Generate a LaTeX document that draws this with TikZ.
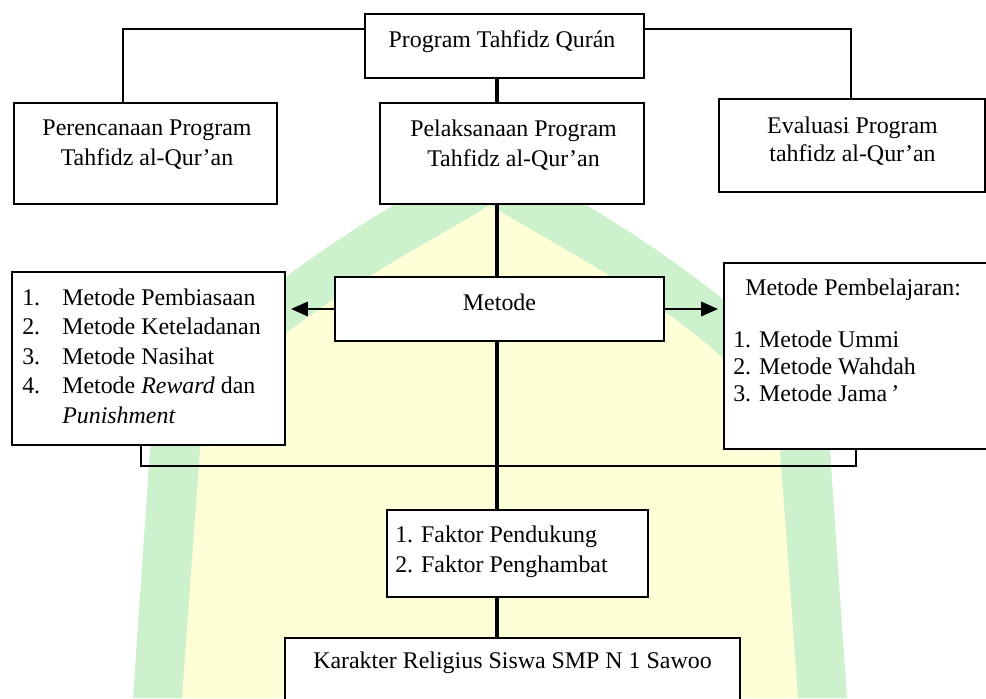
\documentclass[tikz,border=0pt]{standalone}
\usepackage{fontspec}
\setmainfont{Liberation Serif}
\usepackage{xcolor}
\usepackage{tikz}
\usetikzlibrary{arrows.meta}
\definecolor{wmGreen}{RGB}{205,241,205}
\definecolor{wmYellow}{RGB}{255,255,215}
\tikzset{box/.style={
    draw, line width=1.4pt, fill=white, inner sep=0pt
  },
  txt/.style={
    inner sep=0pt, align=center,
    font=\fontsize{17}{21.3}\selectfont
  },
  link/.style={
    line width=1.2pt
  },
  spine/.style={
    line width=2.4pt
  },
  arr/.style={
    line width=1.4pt,
    -{Triangle[length=4.2mm,width=3.6mm]},
    shorten >=0.125cm
  }
}

\begin{document}
\begin{tikzpicture}[x=0.025cm,y=-0.025cm]
      \useasboundingbox (0,0) rectangle (986,698);
      \fill[white] (0,0) rectangle (986,698);
      \fill[wmGreen] (133,698) -- (150,450) .. controls (160,330) and (400,200) .. (490,150)
      .. controls (580,200) and (820,330) .. (830,450) -- (847,698) -- cycle;
      \fill[wmYellow] (182,698) -- (200,450) .. controls (210,350) and (420,250) .. (490,205)
      .. controls (560,250) and (770,350) .. (780,450) -- (798,698) -- cycle;
      \node[box,minimum width=6.975cm,minimum height=1.6cm] (prog) at (504.5,46) {};
      \node[box,minimum width=6.575cm,minimum height=2.525cm] (plan) at (145.5,153.5) {};
      \node[box,minimum width=6.6cm,minimum height=2.525cm] (exec) at (512,153.5) {};
      \node[box,minimum width=6.65cm,minimum height=2.325cm] (eval) at (852,145.5) {};
      \node[box,minimum width=8.225cm,minimum height=1.6cm] (meth) at (499.5,309) {};
      \node[box,minimum width=6.825cm,minimum height=4.325cm] (habit) at (148.5,358.5) {};
      \node[box,minimum width=6.65cm,minimum height=4.65cm] (learn) at (857,356) {};
      \node[box,minimum width=6.525cm,minimum height=2.175cm] (fact) at (517.5,553.5) {};
      \node[box,minimum width=11.375cm,minimum height=2.25cm] (kar) at (512.5,683) {};
      \node[txt] (progtxt) at (502,42) {Program Tahfidz Qurán};
      \node[txt] (plantxt) at (147,145) {Perencanaan Program\\Tahfidz al-Qur'an};
      \node[txt] (exectxt) at (513.5,145) {Pelaksanaan Program\\Tahfidz al-Qur'an};
      \node[txt,font=\fontsize{17}{20}\selectfont] (evaltxt) at (852.5,141) {Evaluasi Program\\tahfidz al-Qur'an};
      \node[txt] (methtxt) at (499.5,302) {Metode};
      \node[txt,align=left,anchor=west,font=\fontsize{17}{21}\selectfont] (habittxt) at (22,356)
      {\makebox[1cm][l]{1.}Metode Pembiasaan\\\makebox[1cm][l]{2.}Metode Keteladanan\\
        \makebox[1cm][l]{3.}Metode Nasihat\\\makebox[1cm][l]{4.}Metode \textit{Reward} dan\\
        \hspace*{1cm}\textit{Punishment}};
      \node[txt,align=left,anchor=west,font=\fontsize{17}{19.2}\selectfont] (learntxt) at (733,340)
      {\hspace*{0.3cm}Metode Pembelajaran:\\[17.8pt]1. Metode Ummi\\2. Metode Wahdah\\3. Metode Jama\,'};
      \node[txt,align=left,anchor=west] (facttxt) at (395,552) {1. Faktor Pendukung\\2. Faktor Penghambat};
      \node[txt] (kartxt) at (512.5,663) {Karakter Religius Siswa SMP N 1 Sawoo};
      \coordinate (spine) at (497,0);
      \coordinate (lhook) at (123,29);
      \coordinate (rhook) at (851,29);
      \coordinate (lfoot) at (141,466);
      \coordinate (rfoot) at (856,466);
      \draw[link] (prog.west |- lhook) -- (lhook) -- (plan.north -| lhook);
      \draw[link] (prog.east |- rhook) -- (rhook) -- (eval.north -| rhook);
      \draw[spine] (prog.south -| spine) -- (exec.north -| spine);
      \draw[spine] (exec.south -| spine) -- (meth.north -| spine);
      \draw[spine] (meth.south -| spine) -- (fact.north -| spine);
      \draw[spine] (fact.south -| spine) -- (kar.north -| spine);
      \draw[link] (habit.south -| lfoot) -- (lfoot) -- (rfoot) -- (learn.south -| rfoot);
      \draw[arr] (meth.west) -- (meth.west -| habit.east);
      \draw[arr] (meth.east) -- (meth.east -| learn.west);
\end{tikzpicture}
\end{document}
